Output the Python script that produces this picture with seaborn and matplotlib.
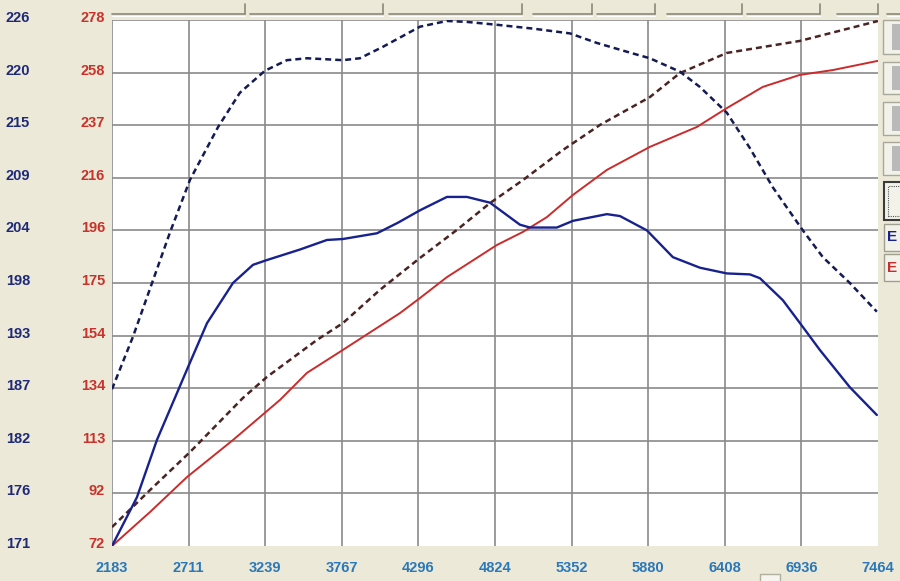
import numpy as np
import pandas as pd
import seaborn as sns
import matplotlib.pyplot as plt
from matplotlib.patches import Rectangle
from matplotlib.lines import Line2D
from matplotlib.transforms import ScaledTranslation

#%% data
rpm_labels = ['2183', '2711', '3239', '3767', '4296', '4824', '5352', '5880', '6408', '6936', '7464']
red_labels = ['72', '92', '113', '134', '154', '175', '196', '216', '237', '258', '278']
blue_labels = ['171', '176', '182', '187', '193', '198', '204', '209', '215', '220', '226']

# blue scale (171 - 226)
blue_solid_rpm = [2183, 2355, 2493, 2617, 2707, 2838, 3017, 3155, 3251, 3479, 3665, 3775, 4010, 4154,
                  4306, 4492, 4630, 4789, 4995, 5064, 5250, 5361, 5595, 5685, 5871, 6050, 6236, 6422,
                  6581, 6650, 6808, 6946, 7063, 7270, 7456]
blue_solid = [171.0, 176.1, 182.1, 186.5, 189.7, 194.3, 198.5, 200.4, 200.9, 202.0, 203.0, 203.1, 203.7, 204.8,
              206.1, 207.5, 207.5, 206.9, 204.6, 204.3, 204.3, 205.0, 205.7, 205.5, 204.0, 201.2, 200.1, 199.5,
              199.4, 199.0, 196.7, 193.9, 191.5, 187.6, 184.7]

blue_dash_rpm = [2183, 2328, 2459, 2583, 2721, 2914, 3065, 3238, 3389, 3527, 3775, 3892, 4051, 4306, 4492,
                 4630, 4837, 5085, 5340, 5526, 5774, 5891, 6098, 6236, 6422, 6581, 6739, 6946, 7084, 7270, 7456]
blue_dash = [187.4, 192.9, 198.5, 203.8, 209.3, 214.8, 218.4, 220.7, 221.8, 222.0, 221.8, 222.0, 223.2, 225.3, 225.9,
             225.8, 225.5, 225.1, 224.6, 223.6, 222.5, 222.0, 220.6, 219.0, 216.3, 212.6, 208.5, 204.0, 201.2, 198.5, 195.5]

# red scale (72 - 278)
red_solid_rpm = [2183, 2445, 2700, 3017, 3341, 3527, 3775, 4168, 4306, 4492, 4837, 5016, 5181, 5361, 5595,
                 5891, 6215, 6422, 6670, 6925, 7153, 7463]
red_solid = [72.0, 85.3, 99.0, 113.5, 129.2, 139.8, 148.8, 163.2, 169.1, 177.3, 189.9, 195.0, 200.8, 209.5, 219.3,
             228.3, 236.1, 243.5, 251.8, 256.5, 258.4, 262.0]

red_dash_rpm = [2183, 2445, 2721, 3086, 3251, 3596, 3775, 4030, 4306, 4561, 4789, 5016, 5292, 5547, 5891,
                6098, 6422, 6925, 7463]
red_dash = [79.4, 93.9, 108.8, 130.0, 138.2, 152.7, 159.3, 172.3, 184.8, 195.8, 206.3, 215.3, 227.1, 236.9, 247.8,
            257.2, 265.1, 269.8, 277.6]

#%% colours
bg = '#ECE9D8'
c_blue = '#18228f'
c_blue_dash = '#141a55'
c_red = '#cc2b2b'
c_red_dash = '#4b2323'
c_blue_lbl = '#1e2a78'
c_red_lbl = '#c8322a'
c_x_lbl = '#2a78b8'

sns.set_style('white')
plt.rcParams['font.family'] = ['Liberation Sans', 'DejaVu Sans']
plt.rcParams['font.weight'] = 'bold'

W, H = 900, 581
fig = plt.figure(figsize=(W / 100, H / 100), dpi=100, facecolor=bg)
ax = fig.add_axes([112 / W, 35 / H, 766 / W, 526 / H])
ax2 = ax.twinx()

dash = (0, (2.4, 1.6))
sns.lineplot(x=red_solid_rpm, y=red_solid, ax=ax, color=c_red, lw=1.4)
sns.lineplot(x=red_dash_rpm, y=red_dash, ax=ax, color=c_red_dash, lw=1.8, linestyle=dash)
sns.lineplot(x=blue_solid_rpm, y=blue_solid, ax=ax2, color=c_blue, lw=1.7)
sns.lineplot(x=blue_dash_rpm, y=blue_dash, ax=ax2, color=c_blue_dash, lw=1.8, linestyle=dash)

ax.set_xlim(2183, 7464)
ax.set_ylim(72, 278)
ax2.set_ylim(171, 226)
ax.set_xticks(np.linspace(2183, 7464, 11), labels=rpm_labels)
ax.set_yticks(np.linspace(72, 278, 11), labels=red_labels)
ax2.set_yticks(np.linspace(171, 226, 11), labels=blue_labels)
ax2.yaxis.tick_left()
for a in (ax, ax2):
    a.set_xlabel('')
    a.set_ylabel('')
    for s in a.spines.values():
        s.set_visible(False)

ax.set_facecolor('white')
ax.tick_params(axis='x', length=0, pad=11, labelsize=10.5, labelcolor=c_x_lbl)
ax.tick_params(axis='y', length=0, pad=5, labelsize=10.5, labelcolor=c_red_lbl)
ax2.tick_params(axis='y', length=0, pad=59, labelsize=10.5, labelcolor=c_blue_lbl)
ax2.grid(False)
ax.grid(True, color='#8a8a8a', lw=1.2)
ax.yaxis.get_gridlines()[0].set_visible(False)
ax.xaxis.get_gridlines()[-1].set_visible(False)

# y labels sit a little above their gridlines on the screen
up = ScaledTranslation(0, 0.035, fig.dpi_scale_trans)
for lbl in ax.get_yticklabels() + ax2.get_yticklabels():
    lbl.set_transform(lbl.get_transform() + up)

#%% window chrome around the plot
def rect(x0, y0, x1, y1, **kw):
    fig.add_artist(Rectangle((x0 / W, 1 - y1 / H), (x1 - x0) / W, (y1 - y0) / H,
                             transform=fig.transFigure, **kw))

def line(xs, ys, **kw):
    fig.add_artist(Line2D([x / W for x in xs], [1 - y / H for y in ys], transform=fig.transFigure, **kw))

# header segments along the top
for x0, x1 in [(112, 245), (250, 383), (389, 522), (533, 592), (597, 655),
               (667, 742), (747, 820), (837, 878), (887, 905)]:
    line([x0, x1], [14, 14], color='#8a8a7a', lw=1.2)
    line([x0, x1], [15.5, 15.5], color='#ffffff', lw=0.8)
    line([x1, x1], [4, 14], color='#8a8a7a', lw=1.2)

# buttons on the right
for y0, y1 in [(20, 54), (62, 94), (102, 135), (142, 175)]:
    rect(883, y0, 905, y1, facecolor='#f3f2ea', edgecolor='#a8a89a', lw=1)
    rect(892, y0 + 4, 905, y1 - 4, facecolor='#b9b9b9', edgecolor='none')
rect(884, 182, 905, 220, facecolor='#f3f2ea', edgecolor='#3a3a3a', lw=1.5)
rect(888, 186, 905, 216, facecolor='none', edgecolor='#555555', lw=0.8, linestyle=(0, (1, 1)))
rect(884, 224, 905, 251, facecolor='#f3f2ea', edgecolor='#a0a090', lw=1)
rect(884, 254, 905, 281, facecolor='#f3f2ea', edgecolor='#a0a090', lw=1)
fig.text(887 / W, 1 - 237.5 / H, 'E', color=c_blue, fontsize=11, va='center', ha='left')
fig.text(887 / W, 1 - 267.5 / H, 'E', color=c_red, fontsize=11, va='center', ha='left')

# scroll thumb at the bottom
rect(760, 574, 780, 585, facecolor='#f5f4ef', edgecolor='#b0b0a0', lw=1)

fig.savefig('out.png', dpi=100, facecolor=bg)
